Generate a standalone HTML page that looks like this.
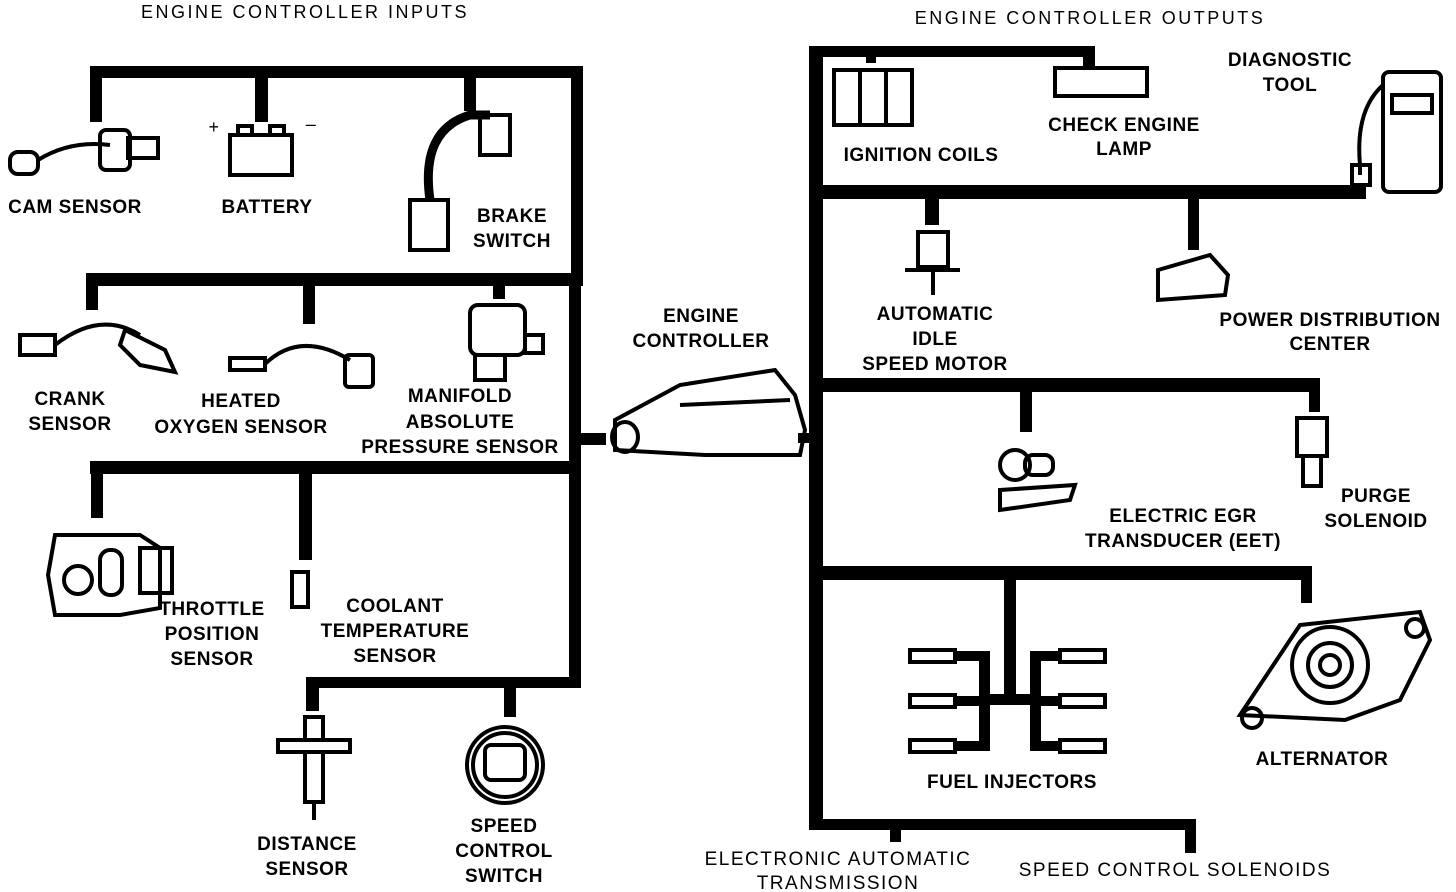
<!DOCTYPE html>
<html><head><meta charset="utf-8"><style>
html,body{margin:0;padding:0;background:#fff}
svg{display:block}
text{font-family:"Liberation Sans","DejaVu Sans",sans-serif;font-size:19px;font-weight:bold;fill:#000;text-anchor:middle;letter-spacing:0.5px}
.t{font-size:18px;font-weight:normal;letter-spacing:2.5px}
</style></head><body>
<svg width="1456" height="892" viewBox="0 0 1456 892" xmlns="http://www.w3.org/2000/svg">
<g fill="#000">
<rect x="90" y="66" width="493" height="12"/>
<rect x="571" y="66" width="12" height="220"/>
<rect x="90" y="66" width="12" height="56"/>
<rect x="255" y="66" width="13" height="56"/>
<rect x="464" y="66" width="12" height="45"/>
<rect x="86" y="273" width="497" height="13"/>
<rect x="86" y="273" width="12" height="37"/>
<rect x="303" y="273" width="12" height="51"/>
<rect x="493" y="273" width="12" height="26"/>
<rect x="569" y="273" width="12" height="415"/>
<rect x="90" y="461" width="491" height="13"/>
<rect x="91" y="461" width="12" height="57"/>
<rect x="299" y="461" width="13" height="99"/>
<rect x="306" y="677" width="275" height="11"/>
<rect x="306" y="677" width="13" height="34"/>
<rect x="504" y="677" width="12" height="40"/>
<rect x="578" y="433" width="28" height="12"/>
<rect x="809" y="46" width="14" height="784"/>
<rect x="809" y="46" width="286" height="11"/>
<rect x="866" y="46" width="10" height="17"/>
<rect x="1083" y="46" width="12" height="22"/>
<rect x="809" y="185" width="557" height="14"/>
<rect x="925" y="185" width="14" height="40"/>
<rect x="1188" y="185" width="11" height="65"/>
<rect x="809" y="378" width="511" height="14"/>
<rect x="1020" y="378" width="12" height="54"/>
<rect x="1309" y="378" width="11" height="34"/>
<rect x="809" y="566" width="503" height="14"/>
<rect x="1301" y="566" width="11" height="37"/>
<rect x="1004" y="566" width="12" height="139"/>
<rect x="979" y="694" width="62" height="11"/>
<rect x="979" y="651" width="11" height="100"/>
<rect x="1030" y="651" width="11" height="100"/>
<rect x="955" y="651" width="35" height="10"/>
<rect x="955" y="696" width="35" height="10"/>
<rect x="955" y="741" width="35" height="10"/>
<rect x="1030" y="651" width="30" height="10"/>
<rect x="1030" y="696" width="30" height="10"/>
<rect x="1030" y="741" width="30" height="10"/>
<rect x="809" y="819" width="387" height="11"/>
<rect x="890" y="819" width="11" height="23"/>
<rect x="1185" y="819" width="11" height="34"/>
<rect x="798" y="433" width="14" height="10"/>
</g>
<g fill="none" stroke="#000" stroke-width="4">
<rect x="10" y="152" width="28" height="22" rx="8"/><path d="M38 160 Q70 140 110 145"/><rect x="100" y="130" width="30" height="40" rx="6"/><rect x="128" y="138" width="30" height="20"/>
<rect x="230" y="135" width="62" height="40"/><rect x="238" y="126" width="14" height="9"/><rect x="270" y="126" width="14" height="9"/>
<text x="215" y="133" class="t" stroke="none">+</text><text x="312" y="130" class="t" stroke="none">–</text>
<path d="M430 200 Q420 130 470 115 L490 115" stroke-width="9"/><rect x="480" y="115" width="30" height="40"/><rect x="410" y="200" width="38" height="50"/>
<rect x="20" y="335" width="35" height="20"/><path d="M55 345 Q100 310 140 335"/><path d="M125 330 L165 350 L175 372 L140 365 L120 345 Z"/>
<rect x="230" y="358" width="35" height="12"/><path d="M265 364 Q300 330 350 360"/><rect x="345" y="355" width="28" height="32" rx="4"/>
<rect x="470" y="305" width="55" height="50" rx="8"/><rect x="475" y="355" width="30" height="25"/><rect x="525" y="335" width="18" height="18"/>
<path d="M55 535 L140 535 L160 548 L160 608 L120 615 L55 615 L48 575 Z"/><circle cx="78" cy="580" r="14"/><rect x="100" y="550" width="22" height="45" rx="10"/><rect x="140" y="548" width="32" height="45"/>
<rect x="292" y="572" width="16" height="35"/>
<rect x="278" y="740" width="72" height="12"/><rect x="305" y="717" width="18" height="23"/><rect x="305" y="752" width="18" height="50"/><path d="M314 802 L314 820"/>
<circle cx="505" cy="765" r="38"/><circle cx="505" cy="765" r="32"/><rect x="485" y="745" width="40" height="35" rx="6"/>
<path d="M615 420 L680 385 L775 370 L795 395 L805 430 L800 455 L705 455 L615 450 Z"/><ellipse cx="625" cy="437" rx="13" ry="15"/><path d="M680 405 L790 400"/>
<rect x="834" y="70" width="78" height="55"/><path d="M860 70 L860 125 M886 70 L886 125"/>
<rect x="1055" y="68" width="92" height="28"/>
<rect x="1383" y="72" width="58" height="120" rx="6"/><rect x="1392" y="95" width="40" height="18"/><path d="M1383 85 Q1355 110 1360 165 L1360 175"/><rect x="1352" y="165" width="18" height="20"/>
<rect x="918" y="232" width="30" height="35"/><path d="M905 270 L960 270"/><path d="M933 270 L933 295"/>
<path d="M1158 270 L1210 255 L1228 275 L1225 295 L1158 300 Z"/>
<circle cx="1015" cy="465" r="15"/><rect x="1025" y="455" width="28" height="20" rx="8"/><path d="M1000 490 L1075 485 L1070 500 L1000 510 Z"/>
<rect x="1297" y="418" width="30" height="38"/><rect x="1303" y="456" width="18" height="30"/>
<rect x="910" y="650" width="45" height="12"/><rect x="910" y="695" width="45" height="12"/><rect x="910" y="740" width="45" height="12"/>
<rect x="1060" y="650" width="45" height="12"/><rect x="1060" y="695" width="45" height="12"/><rect x="1060" y="740" width="45" height="12"/>
<path d="M1240 715 L1300 625 L1420 612 L1430 640 L1400 700 L1345 720 Z"/><circle cx="1330" cy="665" r="38"/><circle cx="1330" cy="665" r="22"/><circle cx="1330" cy="665" r="10"/><circle cx="1252" cy="718" r="10"/><circle cx="1415" cy="628" r="9"/>
</g>
<text x="305" y="18" class="t">ENGINE CONTROLLER INPUTS</text>
<text x="75" y="213">CAM SENSOR</text>
<text x="267" y="213">BATTERY</text>
<text x="512" y="222">BRAKE</text><text x="512" y="247">SWITCH</text>
<text x="70" y="405">CRANK</text><text x="70" y="430">SENSOR</text>
<text x="241" y="407">HEATED</text><text x="241" y="433">OXYGEN SENSOR</text>
<text x="460" y="402">MANIFOLD</text><text x="460" y="428">ABSOLUTE</text><text x="460" y="453">PRESSURE SENSOR</text>
<text x="212" y="615">THROTTLE</text><text x="212" y="640">POSITION</text><text x="212" y="665">SENSOR</text>
<text x="395" y="612">COOLANT</text><text x="395" y="637">TEMPERATURE</text><text x="395" y="662">SENSOR</text>
<text x="307" y="850">DISTANCE</text><text x="307" y="875">SENSOR</text>
<text x="504" y="832">SPEED</text><text x="504" y="857">CONTROL</text><text x="504" y="882">SWITCH</text>
<text x="701" y="322">ENGINE</text><text x="701" y="347">CONTROLLER</text>
<text x="1090" y="24" class="t">ENGINE CONTROLLER OUTPUTS</text>
<text x="921" y="161">IGNITION COILS</text>
<text x="1124" y="131">CHECK ENGINE</text><text x="1124" y="155">LAMP</text>
<text x="1290" y="66">DIAGNOSTIC</text><text x="1290" y="91">TOOL</text>
<text x="935" y="320">AUTOMATIC</text><text x="935" y="345">IDLE</text><text x="935" y="370">SPEED MOTOR</text>
<text x="1330" y="326">POWER DISTRIBUTION</text><text x="1330" y="350">CENTER</text>
<text x="1183" y="522">ELECTRIC EGR</text><text x="1183" y="547">TRANSDUCER (EET)</text>
<text x="1376" y="502">PURGE</text><text x="1376" y="527">SOLENOID</text>
<text x="1012" y="788">FUEL INJECTORS</text>
<text x="1322" y="765">ALTERNATOR</text>
<text x="838" y="865" style="font-weight:normal;letter-spacing:1.5px">ELECTRONIC AUTOMATIC</text><text x="838" y="889" style="font-weight:normal;letter-spacing:1.5px">TRANSMISSION</text>
<text x="1175" y="876" style="font-weight:normal;letter-spacing:1.5px">SPEED CONTROL SOLENOIDS</text>
</svg>
</body></html>
